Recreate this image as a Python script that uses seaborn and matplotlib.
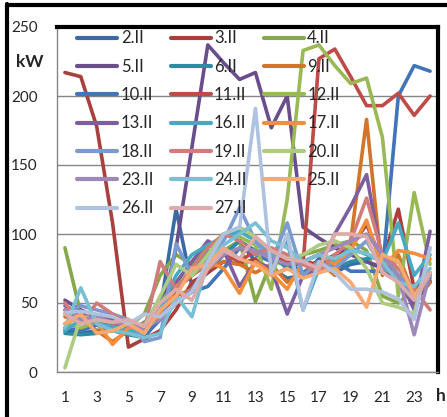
import numpy as np
import pandas as pd
import matplotlib
matplotlib.use("Agg")
import matplotlib.pyplot as plt
import seaborn as sns
from matplotlib.lines import Line2D

# Hourly power demand (kW) for working days in February
hours = list(range(1, 25))
days = ["2.II", "3.II", "4.II", "5.II", "6.II", "9.II", "10.II", "11.II", "12.II", "13.II",
        "16.II", "17.II", "18.II", "19.II", "20.II", "23.II", "24.II", "25.II", "26.II", "27.II"]

d02 = [30, 28, 30, 32, 28, 36, 45, 118, 62, 72, 85, 95, 80, 75, 68, 70, 82, 72, 78, 80, 76, 70, 58, 66]
d03 = [217, 214, 178, 108, 18, 24, 30, 45, 65, 72, 80, 78, 82, 70, 75, 80, 78, 85, 90, 107, 80, 118, 60, 70]
d04 = [90, 42, 37, 35, 33, 42, 70, 85, 78, 92, 88, 95, 51, 80, 78, 85, 88, 92, 95, 88, 55, 50, 60, 72]
d05 = [52, 45, 40, 38, 36, 30, 40, 90, 163, 237, 224, 212, 217, 177, 200, 105, 97, 90, 85, 80, 75, 65, 50, 65]
d06 = [28, 27, 28, 30, 27, 25, 40, 60, 75, 88, 85, 95, 88, 85, 75, 80, 85, 75, 80, 82, 85, 70, 55, 68]
d09 = [40, 38, 30, 22, 30, 32, 42, 55, 60, 75, 80, 78, 72, 78, 65, 72, 80, 70, 95, 183, 70, 85, 55, 65]
d10 = [32, 30, 34, 30, 28, 26, 38, 50, 58, 62, 75, 90, 85, 80, 80, 72, 78, 80, 73, 73, 73, 200, 222, 218]
d11 = [45, 40, 38, 35, 33, 30, 42, 60, 70, 78, 85, 80, 88, 85, 80, 78, 227, 234, 214, 193, 193, 202, 186, 200]
d12 = [35, 32, 36, 30, 30, 35, 50, 65, 72, 85, 100, 98, 92, 60, 125, 233, 237, 222, 209, 213, 170, 55, 130, 78]
d13 = [48, 42, 40, 38, 34, 30, 45, 65, 80, 95, 88, 62, 80, 75, 42, 70, 75, 100, 120, 143, 80, 70, 45, 102]
d16 = [30, 38, 35, 33, 30, 28, 45, 70, 85, 92, 98, 102, 95, 85, 95, 45, 75, 80, 90, 85, 80, 108, 70, 85]
d17 = [35, 40, 36, 20, 32, 35, 40, 62, 70, 80, 75, 57, 80, 72, 60, 80, 85, 78, 88, 110, 75, 88, 86, 82]
d18 = [42, 48, 45, 42, 38, 22, 25, 93, 70, 82, 95, 119, 95, 80, 108, 70, 80, 75, 85, 95, 75, 70, 55, 70]
d19 = [50, 35, 50, 42, 35, 30, 80, 60, 75, 90, 100, 95, 85, 90, 85, 78, 72, 85, 95, 126, 85, 75, 60, 45]
d20 = [3, 40, 38, 36, 35, 33, 55, 78, 70, 85, 100, 105, 98, 88, 82, 85, 92, 95, 90, 75, 50, 47, 42, 90]
d23 = [45, 38, 40, 36, 34, 32, 38, 50, 60, 75, 85, 90, 88, 82, 78, 80, 85, 90, 95, 100, 85, 70, 27, 72]
d24 = [32, 61, 35, 30, 28, 25, 28, 55, 40, 80, 92, 100, 108, 95, 90, 80, 85, 82, 88, 86, 80, 65, 62, 75]
d25 = [35, 42, 28, 30, 35, 28, 45, 55, 75, 78, 90, 82, 78, 70, 75, 68, 72, 75, 65, 47, 85, 80, 55, 72]
d26 = [43, 44, 42, 40, 35, 42, 40, 50, 58, 80, 100, 105, 191, 72, 100, 45, 80, 72, 60, 60, 58, 53, 38, 90]
d27 = [42, 35, 38, 36, 38, 33, 50, 60, 52, 75, 88, 82, 98, 88, 82, 80, 75, 100, 100, 98, 72, 65, 52, 72]

values = [d02, d03, d04, d05, d06, d09, d10, d11, d12, d13,
          d16, d17, d18, d19, d20, d23, d24, d25, d26, d27]

colors = ["#3A6BA6", "#A8403D", "#86A84A", "#6A4E8C", "#2C8DA2", "#D2742A",
          "#4174B8", "#BE4B48", "#98B954", "#7D5FA0", "#46AAC5", "#F38E3C",
          "#7B9BD0", "#D07C7A", "#AECB82", "#9D88BA", "#79C0D4", "#F9A96F",
          "#AFC2DF", "#DDABAA"]

y_ticks = [0, 50, 100, 150, 200, 250]
x_labels = list(range(1, 24, 2))

df = pd.DataFrame({
    "hour": np.tile(hours, len(days)),
    "kW": np.concatenate(values),
    "day": np.repeat(days, len(hours)),
})

sns.set_style("white")
plt.rcParams["font.family"] = ["Lato", "DejaVu Sans"]

W, H = 447, 417
fig = plt.figure(figsize=(W / 100, H / 100), dpi=100)
ax = fig.add_axes([57 / W, 1 - 372 / H, (438 - 57) / W, (372 - 27) / H])

sns.lineplot(data=df, x="hour", y="kW", hue="day", hue_order=days,
             palette=colors, linewidth=2.6, estimator=None, sort=False,
             legend=False, ax=ax)

ax.set_xlim(0.5, 24.5)
ax.set_ylim(0, 250)
ax.set_xlabel("")
ax.set_ylabel("")

grid_c = "#868686"
ax.set_yticks(y_ticks)
ax.yaxis.grid(True, color=grid_c, linewidth=1)
ax.set_axisbelow(True)
ax.tick_params(axis="y", length=5, width=1, color=grid_c, pad=9, labelsize=11)

ax.set_xticks(x_labels)
ax.set_xticks(np.arange(0.5, 25, 1), minor=True)
ax.tick_params(axis="x", which="major", length=0, pad=14, labelsize=11)
ax.tick_params(axis="x", which="minor", length=5, width=1, color=grid_c)

for side in ("left", "bottom"):
    ax.spines[side].set_color(grid_c)
    ax.spines[side].set_linewidth(1)
for side in ("top", "right"):
    ax.spines[side].set_color("black")
    ax.spines[side].set_linewidth(3)

# legend laid out row by row in three columns
handles = [Line2D([], [], color=c, linewidth=3) for c in colors]
order = [i for c in range(3) for i in range(c, len(days), 3)]
leg = ax.legend([handles[i] for i in order], [days[i] for i in order],
                ncol=3, loc="upper left", bbox_to_anchor=(0.045, 1.0),
                frameon=False, fontsize=12, handlelength=2.4,
                handletextpad=0.2, columnspacing=1.05, labelspacing=0.74,
                borderpad=0.2, borderaxespad=0)

fig.text(30 / W, 1 - 62 / H, "kW", ha="center", va="center",
         fontsize=12.5, fontweight="bold")
fig.text(441 / W, 1 - 396 / H, "h", ha="center", va="center",
         fontsize=12.5, fontweight="bold")

# outer chart frame
fig.add_artist(Line2D([7 / W, 7 / W], [0, 1 - 4 / H], transform=fig.transFigure,
                      color="black", linewidth=3))
fig.add_artist(Line2D([7 / W, 1], [1 - 4.5 / H, 1 - 4.5 / H], transform=fig.transFigure,
                      color="black", linewidth=3))

fig.savefig("out.png", dpi=100)
